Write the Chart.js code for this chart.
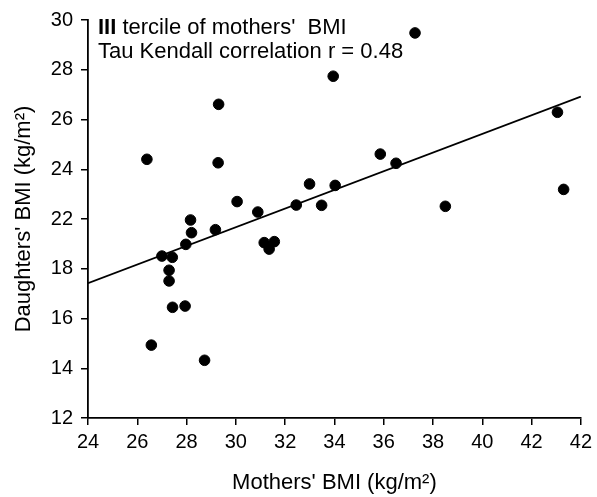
<!DOCTYPE html>
<html>
<head>
<meta charset="utf-8">
<script src="https://cdn.jsdelivr.net/npm/chart.js@4.4.1/dist/chart.umd.min.js"></script>
<style>
  html, body { margin: 0; padding: 0; background: #fff; }
  #wrap { width: 597px; height: 497px; }
</style>
</head>
<body>
<div id="wrap"><canvas id="c" width="597" height="497"></canvas></div>
<script>
// mothers' BMI (x) vs daughters' BMI (y), III tercile
const mothersBMI = [26.39, 29.30, 29.28, 30.05, 30.89, 32.45, 32.99, 33.48, 28.16, 28.20,
  29.17, 27.97, 27.00, 27.42, 27.29, 27.29, 27.43, 27.94, 26.57, 28.73,
  31.15, 31.35, 31.56, 37.27, 33.95, 43.05, 35.86, 36.50, 34.03, 38.50, 43.30];
const daughtersBMI = [24.40, 26.61, 24.26, 22.70, 22.28, 22.56, 23.41, 22.55, 21.96, 21.45,
  21.57, 20.98, 20.51, 20.46, 19.94, 19.51, 18.45, 18.50, 16.93, 16.32,
  21.05, 20.79, 21.09, 29.48, 27.74, 26.29, 24.61, 24.24, 23.35, 22.51, 23.19];

// fitted trend line end points
const trendX = [24, 44];
const trendY = [19.42, 26.92];

// tick labels exactly as printed on the axes
const xTickLabels = ['24', '26', '28', '30', '32', '34', '36', '38', '40', '42', '42'];
const yTickLabels = ['12', '14', '16', '18', '22', '24', '26', '28', '30'];

const noteLines = [
  { bold: 'III', text: ' tercile of mothers\'  BMI' },
  { bold: '', text: 'Tau Kendall correlation r = 0.48' }
];

const FONT = 'Liberation Sans, Arial, sans-serif';

const notePlugin = {
  id: 'notePlugin',
  afterDraw(chart) {
    const ctx = chart.ctx;
    const left = chart.chartArea.left + 10;
    ctx.save();
    ctx.fillStyle = '#000';
    ctx.textBaseline = 'alphabetic';
    noteLines.forEach((ln, i) => {
      const y = chart.chartArea.top + 14 + i * 24;
      let x = left;
      if (ln.bold) {
        ctx.font = 'bold 22px ' + FONT;
        ctx.fillText(ln.bold, x, y);
        x += ctx.measureText(ln.bold).width;
      }
      ctx.font = '22px ' + FONT;
      ctx.fillText(ln.text, x, y);
    });
    ctx.restore();
  }
};

const points = mothersBMI.map((x, i) => ({ x, y: daughtersBMI[i] }));
const trend = trendX.map((x, i) => ({ x, y: trendY[i] }));

new Chart(document.getElementById('c'), {
  type: 'scatter',
  data: {
    datasets: [
      {
        data: points,
        backgroundColor: '#000',
        borderColor: '#000',
        pointRadius: 5.3,
        pointHoverRadius: 5.3
      },
      {
        type: 'line',
        data: trend,
        borderColor: '#000',
        borderWidth: 1.8,
        pointRadius: 0,
        fill: false
      }
    ]
  },
  options: {
    responsive: false,
    animation: false,
    events: [],
    layout: { padding: { top: 20, right: 11, left: 0, bottom: 0 } },
    plugins: { legend: { display: false }, tooltip: { enabled: false } },
    scales: {
      x: {
        type: 'linear',
        min: 24,
        max: 44,
        afterBuildTicks: (s) => { s.ticks = xTickLabels.map((_, i) => ({ value: 24 + i * 2 })); },
        afterFit: (s) => { s.height = 79; },
        ticks: {
          color: '#000',
          font: { family: FONT, size: 20 },
          padding: 5,
          maxRotation: 0,
          callback: (v, i) => xTickLabels[i]
        },
        grid: { drawOnChartArea: false, drawTicks: true, tickLength: 7, color: '#000', lineWidth: 1.5 },
        border: { color: '#000', width: 1.8 },
        title: {
          display: true,
          text: 'Mothers\' BMI (kg/m²)',
          color: '#000',
          font: { family: FONT, size: 22 },
          padding: { top: 0, bottom: 1 }
        }
      },
      y: {
        type: 'linear',
        min: 14,
        max: 30,
        afterBuildTicks: (s) => { s.ticks = yTickLabels.map((_, i) => ({ value: 14 + i * 2 })); },
        afterFit: (s) => { s.width = 88; },
        ticks: {
          color: '#000',
          font: { family: FONT, size: 20 },
          padding: 8,
          callback: (v, i) => yTickLabels[i]
        },
        grid: { drawOnChartArea: false, drawTicks: true, tickLength: 7, color: '#000', lineWidth: 1.5 },
        border: { color: '#000', width: 1.8 },
        title: {
          display: true,
          text: 'Daughters\' BMI (kg/m²)',
          color: '#000',
          font: { family: FONT, size: 22 },
          padding: { top: 11, bottom: 0 }
        }
      }
    }
  },
  plugins: [notePlugin]
});
</script>
</body>
</html>
